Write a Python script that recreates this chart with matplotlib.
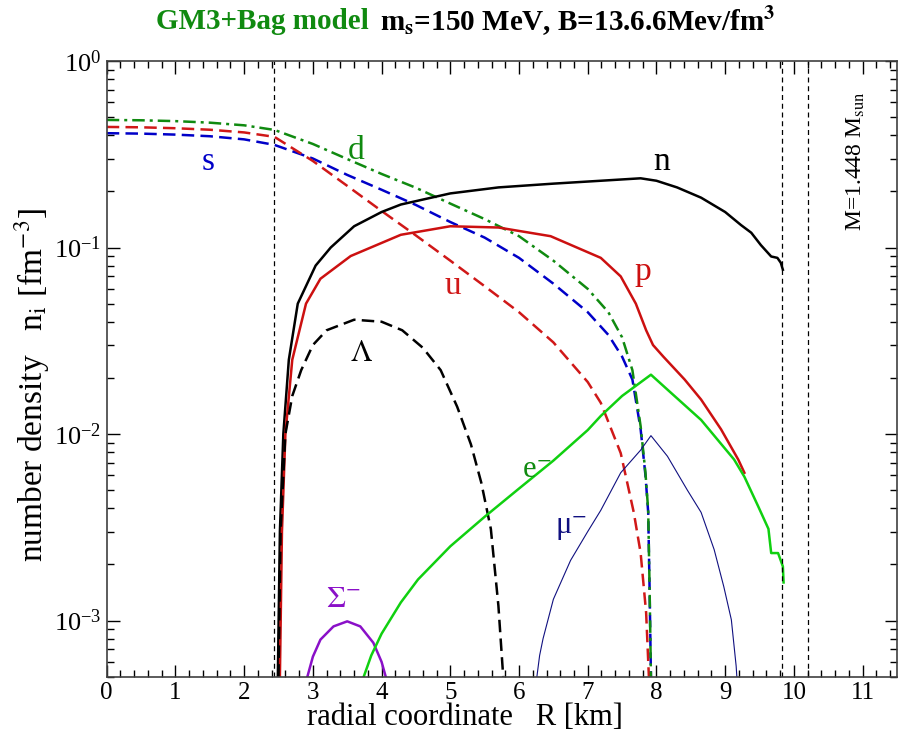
import numpy as np
import matplotlib
matplotlib.use("Agg")
import matplotlib.pyplot as plt
from matplotlib.ticker import MultipleLocator, LogLocator

plt.rcParams['font.family'] = ['Liberation Serif', 'DejaVu Serif']
plt.rcParams['mathtext.fontset'] = 'stix'

# quarks (pure quark core + mixed phase)
r_s = [0, 0.5, 1.0, 1.5, 2.0, 2.44, 3.0, 3.5, 4.0, 4.5, 5.0, 5.5, 6.0, 6.5, 7.0, 7.3, 7.5, 7.65, 7.77, 7.84, 7.88, 7.9, 7.92]
n_s = [0.41, 0.408, 0.403, 0.395, 0.38, 0.355, 0.30, 0.245, 0.204, 0.169, 0.137, 0.113, 0.088, 0.064, 0.045, 0.034, 0.026, 0.0196, 0.0106, 0.006, 0.0038, 0.0015, 0.0005]

r_u = [0, 0.5, 1.0, 1.5, 2.0, 2.44, 3.0, 3.5, 4.0, 4.5, 5.0, 5.5, 6.0, 6.5, 7.0, 7.19, 7.48, 7.67, 7.77, 7.85, 7.89]
n_u = [0.443, 0.441, 0.436, 0.428, 0.414, 0.392, 0.291, 0.214, 0.157, 0.116, 0.085, 0.062, 0.045, 0.031, 0.019, 0.0147, 0.0079, 0.0038, 0.0023, 0.0011, 0.0005]

r_d = [0, 0.5, 1.0, 1.5, 2.0, 2.44, 3.0, 3.5, 4.0, 4.5, 5.0, 5.5, 6.0, 6.5, 7.0, 7.3, 7.5, 7.65, 7.77, 7.84, 7.88, 7.9, 7.92]
n_d = [0.483, 0.481, 0.476, 0.467, 0.452, 0.427, 0.359, 0.298, 0.248, 0.209, 0.172, 0.142, 0.115, 0.085, 0.06, 0.045, 0.033, 0.022, 0.011, 0.0062, 0.0039, 0.0015, 0.0005]

# hadrons
r_n = [2.49, 2.52, 2.57, 2.65, 2.78, 3.04, 3.26, 3.6, 4.0, 4.28, 5.0, 5.7, 6.5, 7.19, 7.77, 8.0, 8.3, 8.65, 9.0, 9.23, 9.38, 9.52, 9.67, 9.76, 9.81, 9.84]
n_n = [0.0005, 0.003, 0.01, 0.025, 0.05, 0.08, 0.1, 0.13, 0.155, 0.17, 0.195, 0.21, 0.22, 0.228, 0.235, 0.228, 0.21, 0.185, 0.155, 0.132, 0.12, 0.103, 0.0895, 0.088, 0.0828, 0.076]

r_p = [2.52, 2.55, 2.6, 2.7, 2.9, 3.11, 3.55, 4.28, 5.0, 5.7, 6.46, 7.19, 7.48, 7.7, 7.85, 7.95, 8.1, 8.41, 8.65, 8.94, 9.19, 9.28]
n_p = [0.0005, 0.003, 0.01, 0.025, 0.05, 0.068, 0.09, 0.117, 0.13, 0.128, 0.115, 0.088, 0.07, 0.05, 0.036, 0.03, 0.026, 0.0196, 0.0153, 0.0106, 0.0073, 0.0062]

r_lam = [2.5, 2.53, 2.6, 2.7, 2.83, 3.0, 3.2, 3.6, 4.0, 4.3, 4.6, 4.86, 5.1, 5.3, 5.45, 5.59, 5.7, 5.77]
n_lam = [0.0005, 0.003, 0.01, 0.016, 0.022, 0.03, 0.036, 0.041, 0.040, 0.036, 0.029, 0.022, 0.014, 0.0088, 0.0055, 0.0031, 0.0012, 0.0005]

r_sig = [2.92, 3.0, 3.11, 3.3, 3.5, 3.69, 3.88, 4.0, 4.06]
n_sig = [0.0005, 0.00064, 0.00079, 0.00093, 0.00099, 0.00093, 0.00076, 0.0006, 0.0005]

# leptons
r_e = [3.74, 3.85, 4.0, 4.28, 4.53, 5.0, 5.5, 6.0, 6.5, 7.0, 7.19, 7.5, 7.92, 8.16, 8.65, 9.13, 9.28, 9.48, 9.63, 9.67, 9.77, 9.84, 9.85]
n_e = [0.0005, 0.00065, 0.00085, 0.00125, 0.00166, 0.0025, 0.0036, 0.0051, 0.0072, 0.0105, 0.0125, 0.016, 0.0208, 0.0173, 0.0119, 0.0073, 0.0059, 0.0041, 0.0031, 0.0023, 0.0023, 0.00195, 0.0016]

r_mu = [6.26, 6.3, 6.35, 6.5, 6.75, 7.0, 7.19, 7.48, 7.77, 7.92, 8.16, 8.45, 8.65, 8.84, 8.98, 9.09, 9.16, 9.17]
n_mu = [0.0005, 0.00065, 0.0008, 0.0013, 0.0021, 0.003, 0.0039, 0.0062, 0.0082, 0.0098, 0.0076, 0.005, 0.0038, 0.0024, 0.00152, 0.00101, 0.00057, 0.0005]

phase_bounds = [2.44, 9.82, 10.2]

fig = plt.figure(figsize=(9, 7.34), dpi=100)
ax = fig.add_axes([0.1186, 0.0781, 0.878, 0.8388])

ax.plot(r_s, n_s, color='#0000c8', lw=1.8, dashes=(5, 2.5))
ax.plot(r_u, n_u, color='#d01818', lw=1.8, dashes=(5, 2.5))
ax.plot(r_d, n_d, color='#108a10', lw=1.8, dashes=(5, 2, 1.2, 2))
ax.plot(r_n, n_n, color='black', lw=1.8)
ax.plot(r_p, n_p, color='#cc1010', lw=1.8)
ax.plot(r_lam, n_lam, color='black', lw=1.8, dashes=(5, 2.5))
ax.plot(r_sig, n_sig, color='#8a10c8', lw=1.8)
ax.plot(r_e, n_e, color='#10d010', lw=1.8)
ax.plot(r_mu, n_mu, color='#101080', lw=0.8)

for xb in phase_bounds:
    ax.axvline(xb, color='black', lw=0.9, dashes=(4, 3))

ax.set_yscale('log')
ax.set_xlim(0, 11.5)
ax.set_ylim(5e-4, 1)
ax.xaxis.set_major_locator(MultipleLocator(1))
ax.xaxis.set_minor_locator(MultipleLocator(0.2))
ax.yaxis.set_major_locator(LogLocator(base=10, numticks=10))
ax.yaxis.set_minor_locator(LogLocator(base=10, subs=np.arange(2, 10), numticks=20))
ax.tick_params(which='both', direction='in', top=True, right=True, width=1)
ax.tick_params(which='major', length=9)
ax.tick_params(which='minor', length=5)
ax.tick_params(axis='x', labelsize=18, pad=4)
ax.tick_params(axis='y', labelsize=19, pad=4)
for sp in ax.spines.values():
    sp.set_linewidth(1.2)
    sp.set_color('#404040')

ax.set_xlabel('radial coordinate   R [km]', fontsize=22)
ax.set_ylabel('number density   n$_\\mathrm{i}$ [fm$^{-3}$]', fontsize=24)
ax.xaxis.set_label_coords(0.4535, -0.066)
ax.xaxis.label.set_va('center')
ax.yaxis.set_label_coords(-0.0946, 0.474)
ax.yaxis.label.set_va('center')

# curve labels
ax.text(1.48, 0.29, 's', color='#0000c8', fontsize=24, ha='center', va='center')
ax.text(3.63, 0.33, 'd', color='#108a10', fontsize=24, ha='center', va='center')
ax.text(8.07, 0.29, 'n', color='black', fontsize=24, ha='center', va='center')
ax.text(5.04, 0.062, 'u', color='#d01818', fontsize=24, ha='center', va='center')
ax.text(7.8, 0.074, 'p', color='#cc1010', fontsize=24, ha='center', va='center')
ax.text(3.7, 0.027, '$\\Lambda$', color='black', fontsize=22, ha='center', va='center')
ax.text(6.25, 0.0064, 'e$^{-}$', color='#108a10', fontsize=22, ha='center', va='center')
ax.text(6.76, 0.0031, 'μ$^{-}$', color='#101080', fontsize=22, ha='center', va='center')
ax.text(3.45, 0.0013, '$\\Sigma^{-}$', color='#8a10c8', fontsize=22, ha='center', va='center')
ax.text(10.9, 0.29, 'M=1.448 M$_{\\mathrm{sun}}$', color='black', fontsize=17, rotation=90, ha='center', va='center')

fig.text(0.41, 0.971, 'GM3+Bag model', color='#108a10', fontsize=21, fontweight='bold', ha='right', va='center')
fig.text(0.422, 0.971, 'm$_{\\mathbf{s}}$=150 MeV, B=13.6.6Mev/fm$^{\\mathbf{3}}$', color='black',
         fontsize=21, fontweight='bold', ha='left', va='center')

fig.savefig('out.png', dpi=100)
